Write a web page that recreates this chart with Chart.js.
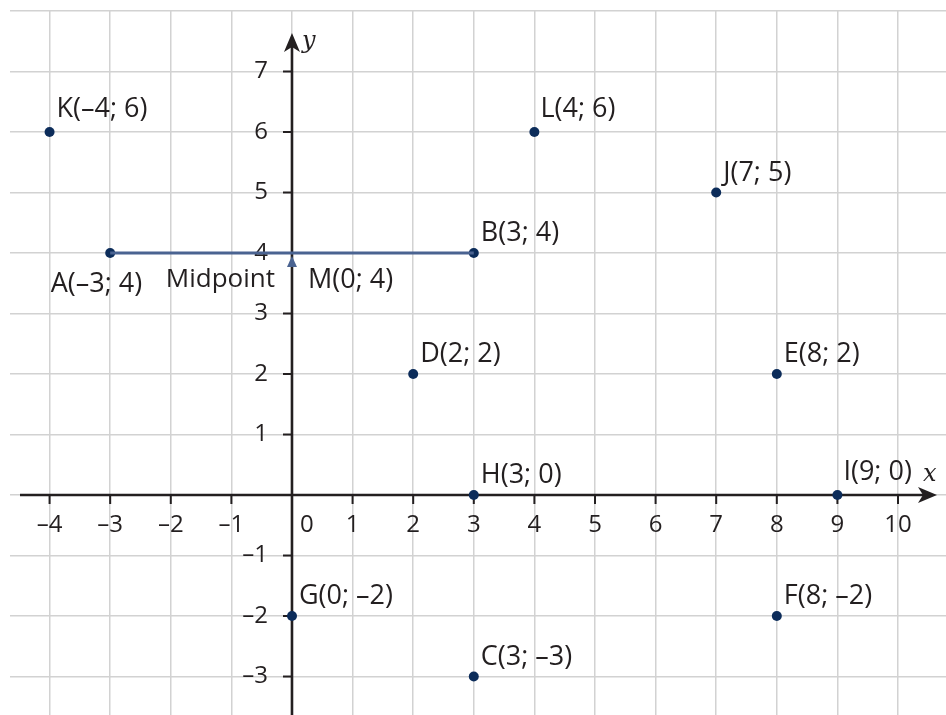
<!DOCTYPE html>
<html>
<head>
<meta charset="utf-8">
<script src="https://cdn.jsdelivr.net/npm/chart.js@4.4.1/dist/chart.umd.min.js"></script>
<style>
  html, body { margin: 0; padding: 0; background: #ffffff; overflow: hidden; }
  #wrap { width: 946px; height: 715px; }
</style>
</head>
<body>
<div id="wrap"><canvas id="plano"></canvas></div>
<script>
// Datos de los puntos
const pointNames = ['A', 'B', 'C', 'D', 'E', 'F', 'G', 'H', 'I', 'J', 'K', 'L'];
const pointX = [-3, 3, 3, 2, 8, 8, 0, 3, 9, 7, -4, 4];
const pointY = [4, 4, -3, 2, 2, -2, -2, 0, 0, 5, 6, 6];

// Segmento AB y su punto medio
const segmentX = [-3, 3];
const segmentY = [4, 4];
const midName = 'M';
const midX = [0];
const midY = [4];
const midCaption = 'Midpoint';

// Etiquetas de los ejes
const xTickValues = [-4, -3, -2, -1, 0, 1, 2, 3, 4, 5, 6, 7, 8, 9, 10];
const yTickValues = [-3, -2, -1, 1, 2, 3, 4, 5, 6, 7];

const INK = '#231f20';
const DOT = '#0c2c5a';
const SEG = '#4a6391';
const FONT = '"Open Sans", "Noto Sans", sans-serif';

// Desplazamientos de las etiquetas (en píxeles)
const labelOffsets = {
    A: { dx: 32, dy: 39, align: 'right' },
    I: { dx: 6, dy: -15 },
    K: { dx: 7, dy: -15 },
    L: { dx: 6, dy: -15 }
};

function fmt(v) {
    return v < 0 ? '\u2013' + Math.abs(v) : String(v);
}

const axesPlugin = {
    id: 'ejes',
    beforeDatasetsDraw(chart) {
        const { ctx, chartArea, scales: { x, y } } = chart;
        const x0 = x.getPixelForValue(0);
        const y0 = y.getPixelForValue(0);
        ctx.save();
        ctx.strokeStyle = INK;
        ctx.fillStyle = INK;
        ctx.lineWidth = 2.6;

        // Eje x
        const xTip = chartArea.right - 9;
        ctx.beginPath();
        ctx.moveTo(chartArea.left + 10, y0);
        ctx.lineTo(xTip - 12, y0);
        ctx.stroke();
        ctx.beginPath();
        ctx.moveTo(xTip, y0);
        ctx.lineTo(xTip - 19, y0 - 8);
        ctx.lineTo(xTip - 14, y0);
        ctx.lineTo(xTip - 19, y0 + 8);
        ctx.closePath();
        ctx.fill();

        // Eje y
        const yTip = chartArea.top + 22;
        ctx.beginPath();
        ctx.moveTo(x0, chartArea.bottom);
        ctx.lineTo(x0, yTip + 12);
        ctx.stroke();
        ctx.beginPath();
        ctx.moveTo(x0, yTip);
        ctx.lineTo(x0 - 8, yTip + 19);
        ctx.lineTo(x0, yTip + 14);
        ctx.lineTo(x0 + 8, yTip + 19);
        ctx.closePath();
        ctx.fill();

        // Marcas y números
        ctx.lineWidth = 2;
        ctx.font = '24px ' + FONT;
        ctx.textBaseline = 'middle';
        xTickValues.forEach(v => {
            const px = x.getPixelForValue(v);
            if (v !== 0) {
                ctx.beginPath();
                ctx.moveTo(px, y0);
                ctx.lineTo(px, y0 + 9);
                ctx.stroke();
            }
            ctx.textAlign = 'center';
            ctx.fillText(fmt(v), v === 0 ? px + 15 : px, y0 + 30);
        });
        yTickValues.forEach(v => {
            const py = y.getPixelForValue(v);
            ctx.beginPath();
            ctx.moveTo(x0, py);
            ctx.lineTo(x0 - 9, py);
            ctx.stroke();
            ctx.textAlign = 'right';
            ctx.fillText(fmt(v), x0 - 24, py);
        });

        // Nombres de los ejes
        ctx.font = 'italic 24px "DejaVu Serif", "Liberation Serif", serif';
        ctx.textAlign = 'left';
        ctx.textBaseline = 'alphabetic';
        ctx.fillText('x', xTip - 14, y0 - 14);
        ctx.fillText('y', x0 + 10, yTip + 15);
        ctx.restore();
    },
    afterDatasetsDraw(chart) {
        const { ctx, scales: { x, y } } = chart;
        ctx.save();
        ctx.fillStyle = INK;
        ctx.font = '27px ' + FONT;
        ctx.textBaseline = 'alphabetic';
        pointNames.forEach((n, i) => {
            const off = labelOffsets[n] || { dx: 7, dy: -12 };
            ctx.textAlign = off.align || 'left';
            const px = x.getPixelForValue(pointX[i]);
            const py = y.getPixelForValue(pointY[i]);
            ctx.fillText(n + '(' + fmt(pointX[i]) + '; ' + fmt(pointY[i]) + ')', px + off.dx, py + off.dy);
        });

        // Punto medio: triángulo y rótulos
        const mx = x.getPixelForValue(midX[0]);
        const my = y.getPixelForValue(midY[0]);
        ctx.fillStyle = SEG;
        ctx.beginPath();
        ctx.moveTo(mx, my + 3);
        ctx.lineTo(mx - 5, my + 14);
        ctx.lineTo(mx + 5, my + 14);
        ctx.closePath();
        ctx.fill();
        ctx.fillStyle = INK;
        ctx.textAlign = 'left';
        ctx.fillText(midName + '(' + fmt(midX[0]) + '; ' + fmt(midY[0]) + ')', mx + 16, my + 35);
        ctx.font = '26px ' + FONT;
        ctx.textAlign = 'right';
        ctx.fillText(midCaption, mx - 17, my + 34);
        ctx.restore();
    }
};

new Chart(document.getElementById('plano'), {
    type: 'scatter',
    data: {
        datasets: [{
            type: 'line',
            data: segmentX.map((v, i) => ({ x: v, y: segmentY[i] })),
            borderColor: SEG,
            borderWidth: 2.8,
            pointRadius: 0,
            fill: false
        }, {
            data: pointX.map((v, i) => ({ x: v, y: pointY[i] })),
            backgroundColor: DOT,
            borderColor: DOT,
            pointRadius: 5,
            pointBorderWidth: 0
        }]
    },
    options: {
        responsive: true,
        maintainAspectRatio: false,
        animation: false,
        layout: { autoPadding: false, padding: { left: 10, top: 11, right: 0, bottom: 0 } },
        plugins: {
            legend: { display: false },
            tooltip: { enabled: false }
        },
        scales: {
            x: {
                type: 'linear',
                min: -4.653,
                max: 10.792,
                ticks: { stepSize: 1, display: false, includeBounds: false },
                grid: { color: '#d2d2d2', lineWidth: 1.5, drawTicks: false },
                border: { display: false }
            },
            y: {
                type: 'linear',
                min: -3.636,
                max: 8,
                ticks: { stepSize: 1, display: false, includeBounds: false },
                grid: { color: '#d2d2d2', lineWidth: 1.5, drawTicks: false },
                border: { display: false }
            }
        }
    },
    plugins: [axesPlugin]
});
</script>
</body>
</html>
